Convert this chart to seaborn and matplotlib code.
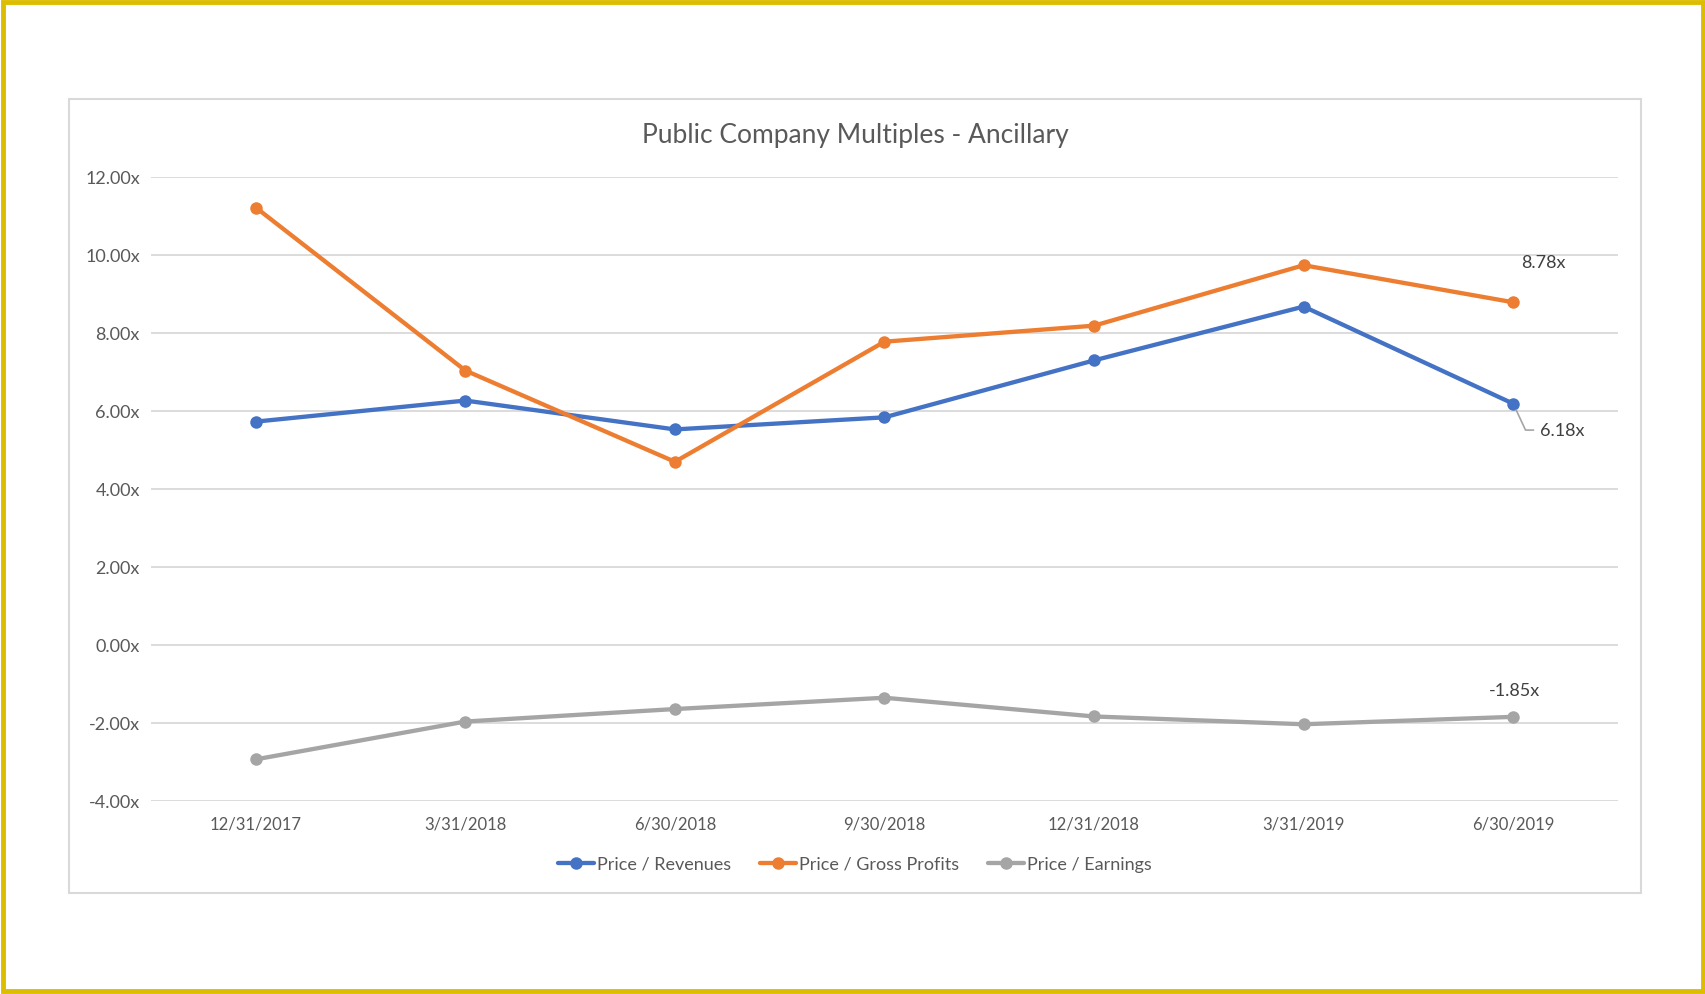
import matplotlib
matplotlib.use("Agg")
import matplotlib.pyplot as plt
import seaborn as sns
import pandas as pd
from matplotlib.patches import Rectangle
from matplotlib.ticker import FuncFormatter

dates = ["12/31/2017", "3/31/2018", "6/30/2018", "9/30/2018", "12/31/2018", "3/31/2019", "6/30/2019"]
price_revenues = [5.72, 6.26, 5.52, 5.83, 7.29, 8.67, 6.18]
price_gross_profits = [11.21, 7.03, 4.69, 7.77, 8.18, 9.73, 8.78]
price_earnings = [-2.94, -1.97, -1.65, -1.36, -1.84, -2.04, -1.85]
series_names = ["Price / Revenues", "Price / Gross Profits", "Price / Earnings"]
colors = ["#4472C4", "#ED7D31", "#A5A5A5"]

rows = []
for name, vals in zip(series_names, [price_revenues, price_gross_profits, price_earnings]):
    for d, v in zip(dates, vals):
        rows.append({"date": d, "value": v, "series": name})
df = pd.DataFrame(rows)

sns.set_theme(style="white")
plt.rcParams["font.family"] = ["Lato", "DejaVu Sans"]

W, H = 1706, 995
fig = plt.figure(figsize=(W / 100, H / 100), dpi=100)

# outer yellow border and inner chart box
fig.patches.append(Rectangle((3 / W, 3 / H), 1 - 6 / W, 1 - 6 / H, transform=fig.transFigure,
                             fill=False, edgecolor="#DDBD00", linewidth=3.5, zorder=0))
fig.patches.append(Rectangle((69 / W, 1 - 894 / H), (1641 - 69) / W, (894 - 100) / H,
                             transform=fig.transFigure, fill=False, edgecolor="#D9D9D9",
                             linewidth=1.5, zorder=0))

left, right = 151 / W, 1618 / W
top, bottom = 1 - 177.7 / H, 1 - 801.7 / H
ax = fig.add_axes([left, bottom, right - left, top - bottom])

sns.lineplot(data=df, x="date", y="value", hue="series", palette=colors, sort=False,
             marker="o", markersize=9, markeredgewidth=0, linewidth=3.1, ax=ax, legend=True)

ax.set_xlim(-0.5, len(dates) - 0.5)
ax.set_ylim(-4, 12)
ax.set_yticks(range(-4, 13, 2))
ax.yaxis.set_major_formatter(FuncFormatter(lambda v, p: f"{v:.2f}x"))
ax.grid(axis="y", color="#D9D9D9", linewidth=1.3)
ax.set_axisbelow(True)
for s in ax.spines.values():
    s.set_visible(False)
ax.tick_params(axis="both", length=0, labelcolor="#595959")
ax.tick_params(axis="y", pad=8, labelsize=13)
ax.tick_params(axis="x", pad=11, labelsize=12)
ax.set_xlabel("")
ax.set_ylabel("")

# data labels on last points
n = len(dates) - 1
ax.annotate(f"{price_gross_profits[-1]:.2f}x", xy=(n, price_gross_profits[-1]), xytext=(22, 29),
            textcoords="offset points", ha="center", va="center", fontsize=13, color="#404040")
ax.annotate(f"{price_revenues[-1]:.2f}x", xy=(n, price_revenues[-1]), xytext=(35, -19),
            textcoords="offset points", ha="center", va="center", fontsize=13, color="#404040",
            arrowprops=dict(arrowstyle="-", color="#A5A5A5", lw=1.2,
                            connectionstyle="angle,angleA=0,angleB=-65,rad=0",
                            shrinkA=2, shrinkB=5))
ax.annotate(f"{price_earnings[-1]:.2f}x", xy=(n, price_earnings[-1]), xytext=(1, 19),
            textcoords="offset points", ha="center", va="center", fontsize=13, color="#404040")

ax.get_legend().remove()
handles, labels = ax.get_legend_handles_labels()
fig.legend(handles, labels, loc="center", bbox_to_anchor=(855 / W, 1 - 865 / H), ncol=3,
           frameon=False, fontsize=13, labelcolor="#595959", handlelength=2.0,
           handletextpad=0.15, columnspacing=1.6)

fig.text(855 / W, 1 - 135 / H, "Public Company Multiples - Ancillary", ha="center", va="center",
         fontsize=19, color="#595959")

fig.savefig("out.png", dpi=100, facecolor="white")
